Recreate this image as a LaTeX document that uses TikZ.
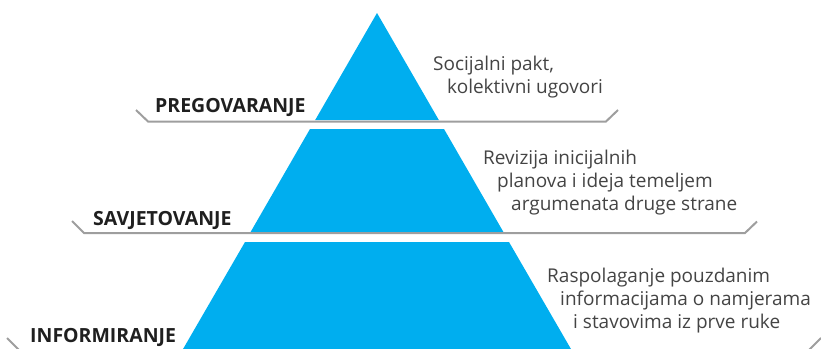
\documentclass[tikz,border=0pt]{standalone}
\usepackage{fontspec}
\setmainfont{Open Sans}

\definecolor{pyramid}{HTML}{00AEEF}
\definecolor{shelfgray}{HTML}{9E9E9E}
\definecolor{notegray}{HTML}{444444}

\tikzset{
  band/.style={fill=pyramid, draw=none},
  shelf/.style={draw=shelfgray, line width=2pt},
  levelname/.style={anchor=base west, inner sep=0pt, text=black!88,
    font=\fontsize{19.5}{23}\selectfont\bfseries},
  % base of a multi-line note sits on its last line
  levelnote/.style={anchor=base west, inner sep=0pt, align=left, text=notegray,
    font=\fontsize{19}{23}\selectfont}
}

\begin{document}
\begin{tikzpicture}[x=1pt,y=-1pt]
\useasboundingbox (0,0) rectangle (821,348);

% pyramid bands, all cut from one triangle with apex (377,13)
\fill[band] (377,13) -- (438.8,120) -- (315.2,120) -- cycle;
\fill[band] (310,129) -- (444,129) -- (503.7,232.5) -- (250.3,232.5) -- cycle;
\fill[band] (245,242) -- (509,242) -- (575,356) -- (179,356) -- cycle;

% shelves under each band (the last one runs off the bottom edge)
\draw[shelf] (136,110) -- (148,121.5) -- (606,121.5) -- (618,110);
\draw[shelf] (72,221) -- (84,233) -- (745,233) -- (757,221.5);
\draw[shelf] (7,338) -- (20,351) -- (808,351) -- (821,338);

% level names
\node[levelname] (pregovaranje) at (155,112) {PREGOVARANJE};
\node[levelname] (savjetovanje) at (93,225) {SAVJETOVANJE};
\node[levelname] (informiranje) at (30,342) {INFORMIRANJE};

% notes beside the bands
\node[levelnote] (paktnote) at (433,93) {Socijalni pakt,\\
  \hspace*{14pt}kolektivni ugovori};
\node[levelnote] (revizijanote) at (483,210) {Revizija inicijalnih\\
  \hspace*{14pt}planova i ideja temeljem\\
  \hspace*{28pt}argumenata druge strane};
\node[levelnote] (podacinote) at (547,328) {Raspolaganje pouzdanim\\
  \hspace*{13pt}informacijama o namjerama\\
  \hspace*{26pt}i stavovima iz prve ruke};
\end{tikzpicture}
\end{document}
